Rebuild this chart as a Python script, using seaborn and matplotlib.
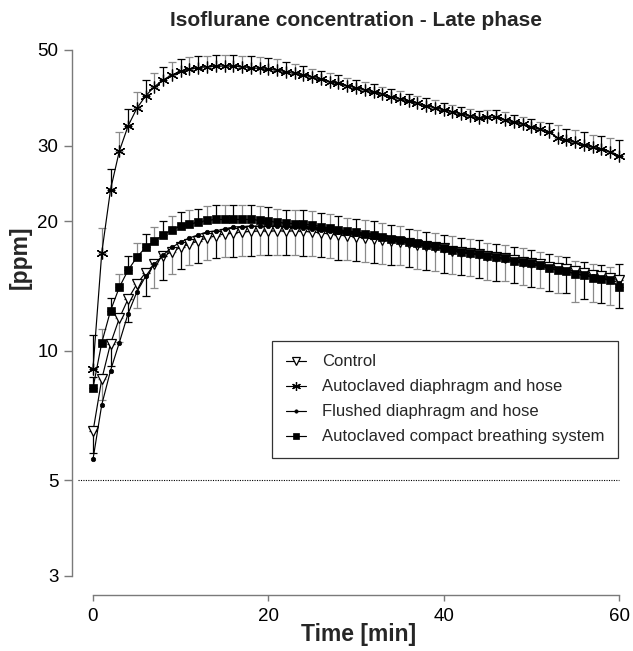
import numpy as np
import pandas as pd
import matplotlib
matplotlib.use("Agg")
import matplotlib.pyplot as plt
import seaborn as sns

# ---------------- data ----------------
time_min = list(range(61))

control = [6.5, 8.6, 10.4, 11.9, 13.2, 14.3, 15.2, 15.9, 16.6, 17.0,
           17.4, 17.7, 18.0, 18.3, 18.5, 18.7, 18.8, 18.9, 18.95, 19.0,
           19.0, 19.0, 19.0, 19.0, 18.95, 18.9, 18.8, 18.7, 18.6, 18.5,
           18.4, 18.3, 18.2, 18.1, 18.0, 17.9, 17.8, 17.6, 17.5, 17.4,
           17.3, 17.1, 17.0, 16.9, 16.8, 16.6, 16.5, 16.4, 16.3, 16.1,
           16.0, 15.9, 15.7, 15.6, 15.5, 15.3, 15.2, 15.0, 14.9, 14.8,
           14.6]
control_sd = [0.7, 0.9, 1.2, 1.4, 1.5, 1.7, 1.8, 1.9, 2.0, 1.9,
              1.9, 1.9, 2.0, 2.0, 2.1, 2.2, 2.3, 2.3, 2.3, 2.3,
              2.3, 2.3, 2.3, 2.3, 2.3, 2.3, 2.3, 2.3, 2.3, 2.2,
              2.2, 2.2, 2.2, 2.2, 2.2, 2.1, 2.1, 2.1, 2.1, 2.1,
              2.1, 2.0, 2.0, 2.0, 2.0, 2.0, 2.0, 1.9, 1.9, 1.9,
              1.9, 1.9, 1.9, 2.0, 1.9, 2.3, 2.0, 2.0, 2.0, 2.0,
              2.0]

autoclaved_dh = [9.1, 16.9, 23.7, 29.1, 33.3, 36.6, 39.1, 41.1, 42.6, 43.8,
                 44.6, 45.1, 45.5, 45.7, 45.9, 45.9, 45.9, 45.7, 45.5, 45.3,
                 45.1, 44.9, 44.5, 44.1, 43.8, 43.2, 42.8, 42.2, 41.8, 41.3,
                 40.8, 40.4, 39.9, 39.5, 38.9, 38.5, 38.0, 37.6, 37.1, 36.7,
                 36.3, 35.9, 35.5, 35.1, 34.7, 34.9, 34.9, 34.4, 34.0, 33.6,
                 33.1, 32.7, 32.3, 31.3, 30.9, 30.5, 30.1, 29.7, 29.4, 29.0,
                 28.4]
autoclaved_dh_sd = [1.8, 2.4, 2.8, 3.1, 3.2, 3.3, 3.5, 3.2, 3.1, 3.2,
                    3.0, 3.0, 3.0, 2.8, 2.8, 2.8, 2.8, 2.8, 2.8, 2.8,
                    2.8, 2.7, 2.5, 2.3, 2.1, 2.0, 2.0, 1.9, 1.9, 1.8,
                    1.8, 1.7, 1.7, 1.6, 1.6, 1.6, 1.5, 1.5, 1.5, 1.5,
                    1.4, 1.4, 1.4, 1.4, 1.4, 1.4, 1.4, 1.4, 1.4, 1.4,
                    1.4, 1.4, 1.6, 2.2, 1.9, 2.1, 2.1, 2.1, 2.2, 2.2,
                    2.5]

flushed_dh = [5.6, 7.5, 9.0, 10.45, 12.2, 13.7, 14.9, 15.9, 16.7, 17.4,
              17.9, 18.3, 18.6, 18.9, 19.0, 19.2, 19.4, 19.45, 19.5, 19.5,
              19.5, 19.5, 19.4, 19.35, 19.3, 19.2, 19.1, 19.0, 18.9, 18.8,
              18.7, 18.6, 18.4, 18.3, 18.1, 18.0, 17.8, 17.7, 17.5, 17.4,
              17.2, 17.1, 16.9, 16.8, 16.7, 16.5, 16.4, 16.3, 16.1, 16.0,
              15.9, 15.7, 15.6, 15.4, 15.3, 15.1, 15.0, 14.9, 14.8, 14.6,
              14.4]

autoclaved_cbs = [8.2, 10.45, 12.4, 14.05, 15.4, 16.5, 17.4, 18.0, 18.6, 19.1,
                  19.5, 19.7, 19.9, 20.1, 20.2, 20.2, 20.2, 20.2, 20.2, 20.1,
                  20.0, 19.9, 19.8, 19.75, 19.7, 19.6, 19.45, 19.3, 19.1, 19.0,
                  18.9, 18.7, 18.6, 18.4, 18.2, 18.1, 17.9, 17.8, 17.6, 17.5,
                  17.3, 17.2, 17.0, 16.9, 16.8, 16.6, 16.5, 16.4, 16.2, 16.1,
                  16.0, 15.8, 15.6, 15.4, 15.3, 15.1, 15.0, 14.8, 14.7, 14.6,
                  14.1]
autoclaved_cbs_sd = [0.5, 0.8, 0.9, 1.0, 1.2, 1.3, 1.3, 1.4, 1.4, 1.5,
                     1.5, 1.5, 1.5, 1.6, 1.6, 1.6, 1.6, 1.6, 1.6, 1.6,
                     1.6, 1.5, 1.5, 1.5, 1.5, 1.5, 1.5, 1.5, 1.5, 1.4,
                     1.4, 1.4, 1.4, 1.4, 1.4, 1.4, 1.3, 1.3, 1.3, 1.3,
                     1.3, 1.3, 1.3, 1.3, 1.3, 1.2, 1.2, 1.2, 1.2, 1.2,
                     1.2, 1.2, 1.2, 1.2, 1.2, 1.1, 1.1, 1.1, 1.1, 1.1,
                     1.8]

series_names = ["Control", "Autoclaved diaphragm and hose",
                "Flushed diaphragm and hose", "Autoclaved compact breathing system"]
y_ticks = [3, 5, 10, 20, 30, 50]
x_ticks = [0, 20, 40, 60]
reference_level = 5

# ---------------- figure ----------------
sns.set_style("ticks")
plt.rcParams["font.family"] = ["Liberation Sans", "DejaVu Sans"]

fig = plt.figure(figsize=(6.33, 6.51), dpi=100)
W, H = 633, 651
ax_l, ax_r, ax_t, ax_b = 93, 619, 50, 576
ax = fig.add_axes([ax_l / W, 1 - ax_b / H, (ax_r - ax_l) / W, (ax_b - ax_t) / H])

ax.set_yscale("log")
ax.set_xlim(0, 60)
ax.set_ylim(3, 50)

t = np.array(time_min)
gray = "#7a7a7a"

def draw_err(y, lower, upper):
    y = np.array(y, float)
    lo = np.array(lower, float)
    up = np.array(upper, float)
    for parity, col in ((0, "black"), (1, "#8a8a8a")):
        idx = (t % 2) == parity
        ax.errorbar(t[idx], y[idx], yerr=[lo[idx], up[idx]], fmt="none",
                    ecolor=col, elinewidth=0.9, capsize=2.6, capthick=0.9,
                    clip_on=False, zorder=2)

zeros = [0] * 61
draw_err(control, control_sd, zeros)
draw_err(autoclaved_dh, zeros, autoclaved_dh_sd)
draw_err(autoclaved_cbs, zeros, autoclaved_cbs_sd)

styles = [
    (control, dict(marker="v", markersize=7, markerfacecolor="white",
                   markeredgecolor="black", markeredgewidth=0.9)),
    (autoclaved_dh, dict(marker=(6, 2, 0), markersize=8.5, markerfacecolor="black",
                         markeredgecolor="black", markeredgewidth=0.9)),
    (flushed_dh, dict(marker="o", markersize=3.2, markerfacecolor="black",
                      markeredgecolor="black", markeredgewidth=0.5)),
    (autoclaved_cbs, dict(marker="s", markersize=6.3, markerfacecolor="black",
                          markeredgecolor="black", markeredgewidth=0.5)),
]
for name, (vals, st) in zip(series_names, styles):
    sns.lineplot(x=time_min, y=vals, ax=ax, color="black", linewidth=0.85,
                 label=name, clip_on=False, zorder=3, **st)

# dotted reference line
ax.axhline(reference_level, xmin=-15 / 526, xmax=1.0, color="black",
           linestyle=(0, (1, 1.2)), linewidth=0.8, clip_on=False, zorder=1)

# axes styling (offset spines like SigmaPlot)
for s in ("top", "right"):
    ax.spines[s].set_visible(False)
ax.spines["left"].set_position(("outward", 15))
ax.spines["bottom"].set_position(("outward", 14))
for s in ("left", "bottom"):
    ax.spines[s].set_color(gray)
    ax.spines[s].set_linewidth(1.0)

ax.set_yticks(y_ticks)
ax.set_yticklabels([str(v) for v in y_ticks])
ax.yaxis.set_minor_locator(matplotlib.ticker.NullLocator())
ax.set_xticks(x_ticks)
ax.tick_params(axis="y", which="major", length=6, width=1.0, color=gray,
               labelsize=13.5, pad=4, labelcolor="black")
ax.tick_params(axis="x", which="major", length=4, width=1.0, color=gray,
               labelsize=13.5, pad=5, labelcolor="black")

ax.set_xlabel("Time [min]", fontsize=16.5, fontweight="bold")
ax.set_ylabel("[ppm]", fontsize=16.5, fontweight="bold")
ax.xaxis.set_label_coords((359 - ax_l) / 526, (ax_b - 635) / 526)
ax.xaxis.label.set_va("center")
ax.yaxis.set_label_coords((20 - ax_l) / 526, (ax_b - 257) / 526)
ax.yaxis.label.set_va("center")

fig.text(356 / W, 1 - 20 / H, "Isoflurane concentration - Late phase",
         ha="center", va="center", fontsize=15, fontweight="bold")

leg = ax.legend(loc="upper right", bbox_to_anchor=((618 - ax_l) / 526, (ax_b - 341) / 526),
                frameon=True, fancybox=False, fontsize=12, handlelength=1.2,
                markerscale=0.75, labelspacing=0.6, borderpad=0.8,
                handletextpad=1.0, borderaxespad=0.0)
leg.get_frame().set_edgecolor("black")
leg.get_frame().set_linewidth(0.9)
leg.set_zorder(5)

fig.savefig("out.png", dpi=100)
